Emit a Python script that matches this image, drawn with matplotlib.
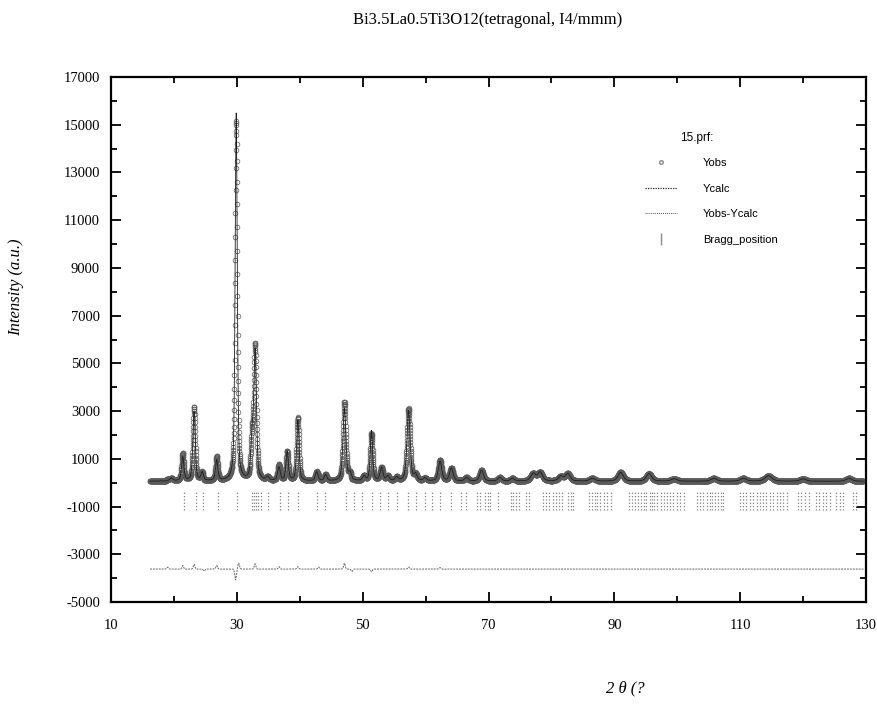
import numpy as np
import matplotlib.pyplot as plt
from matplotlib.lines import Line2D

plt.rcParams['axes.unicode_minus'] = False

# reflexiones observadas: posicion (2theta), altura sobre el fondo, anchura
peak_pos = [19.6, 21.4, 23.2, 24.5, 26.8, 29.9, 32.4, 32.9, 34.9, 36.7, 38.0, 39.7,
            42.7, 44.1, 47.1, 48.0, 50.2, 51.4, 53.0, 54.0, 55.4, 57.3, 58.4, 59.9,
            62.3, 64.1, 66.5, 68.9, 71.8, 73.8, 77.1, 78.2, 81.5, 82.6, 86.5, 91.0,
            95.5, 99.5, 105.8, 110.5, 114.5, 120.0, 127.3]
peak_height = [120, 1000, 2900, 350, 860, 15400, 1500, 5400, 150, 560, 1230, 2550,
               380, 260, 3050, 300, 200, 2100, 550, 200, 150, 2950, 250, 120,
               830, 540, 150, 460, 150, 120, 320, 370, 200, 310, 120, 370,
               320, 100, 120, 120, 230, 100, 120]
peak_fwhm = [0.6, 0.45, 0.45, 0.45, 0.45, 0.4, 0.45, 0.5, 0.5, 0.5, 0.45, 0.45,
             0.5, 0.5, 0.55, 0.5, 0.5, 0.45, 0.55, 0.55, 0.55, 0.6, 0.55, 0.6,
             0.65, 0.65, 0.65, 0.7, 0.7, 0.7, 0.9, 0.9, 0.9, 0.9, 1.0, 1.0,
             1.0, 1.1, 1.1, 1.1, 1.3, 1.1, 1.1]
background = 60

# residuos (Yobs - Ycalc) en los picos principales
diff_pos = [19.0, 21.4, 23.2, 24.8, 26.8, 29.8, 30.3, 32.9, 36.7, 39.7, 43.0, 47.1,
            48.3, 51.4, 57.3, 62.3]
diff_amp = [80, 150, 200, -80, 150, -450, 250, 220, 100, 100, 80, 250,
            -100, -120, 80, 60]
diff_offset = -3620

bragg_pos = [21.6, 23.5, 24.6, 27.0, 30.0, 32.4, 32.7, 33.0, 33.3, 33.9, 34.9, 36.9,
             38.2, 39.7, 42.8, 44.0, 47.3, 48.7, 49.9, 51.5, 52.8, 54.0, 55.4, 57.2,
             58.4, 59.9, 61.0, 62.3, 64.1, 65.7, 66.5, 68.2, 68.7, 69.4, 69.9, 70.2,
             71.5, 73.5, 73.9, 74.4, 74.9, 76.0, 76.5, 78.6, 79.1, 79.6, 80.2, 80.7,
             81.2, 81.7, 82.6, 83.1, 83.5, 86.0, 86.4, 86.9, 87.3, 87.8, 88.3, 88.9,
             89.4, 92.3, 92.8, 93.3, 93.7, 94.2, 94.7, 95.1, 95.6, 96.0, 96.3, 96.8,
             97.4, 97.9, 98.4, 98.9, 99.4, 100.0, 100.4, 101.0, 103.1, 103.6, 104.1,
             104.7, 105.2, 105.5, 106.0, 106.4, 106.9, 107.3, 110.0, 110.5, 111.0,
             111.6, 112.1, 112.6, 113.1, 113.6, 114.1, 114.7, 115.2, 115.8, 116.3,
             116.8, 117.4, 119.2, 119.7, 120.3, 121.0, 122.1, 122.6, 123.1, 123.7,
             124.2, 125.3, 125.8, 126.3, 127.9, 128.4]

x_ticks = [10, 30, 50, 70, 90, 110, 130]
y_ticks = [-5000, -3000, -1000, 1000, 3000, 5000, 7000, 9000, 11000, 13000, 15000, 17000]

two_theta = np.arange(16.2, 129.6, 0.02)


def pseudo_voigt(x, pos, height, fwhm, eta=0.5):
    g = np.exp(-4 * np.log(2) * ((x - pos) / fwhm) ** 2)
    l = 1 / (1 + 4 * ((x - pos) / fwhm) ** 2)
    return height * (eta * l + (1 - eta) * g)


ycalc = np.full_like(two_theta, background, dtype=float)
for p, h, w in zip(peak_pos, peak_height, peak_fwhm):
    ycalc += pseudo_voigt(two_theta, p, h, w)

resid = np.zeros_like(two_theta)
for p, a in zip(diff_pos, diff_amp):
    resid += a * np.exp(-4 * np.log(2) * ((two_theta - p) / 0.3) ** 2)
yobs = ycalc + resid

fig = plt.figure(figsize=(8.77, 7.04), dpi=100)
ax = fig.add_axes([111 / 877, 1 - 602 / 704, 755 / 877, 525 / 704])

ax.plot(two_theta, yobs, linestyle='none', marker='o', markersize=3.4,
        mfc='none', mec='#5a5a5a', mew=0.5)
ax.plot(two_theta, ycalc, color='#1e1e1e', lw=0.6)
ax.plot(two_theta, resid + diff_offset, color='#666666', lw=0.7, linestyle=(0, (2, 1)))
ax.vlines(bragg_pos, -1150, -400, colors='#808080', lw=0.9, linestyles=':')

ax.set_xlim(10, 130)
ax.set_ylim(-5000, 17000)
ax.set_xticks(x_ticks)
ax.set_xticks(np.arange(20, 130, 20), minor=True)
ax.set_yticks(y_ticks)
ax.set_yticks(np.arange(-4000, 17000, 2000), minor=True)

serif = 'Liberation Serif'
for lab in ax.get_xticklabels() + ax.get_yticklabels():
    lab.set_family(serif)
    lab.set_fontsize(10.5)
ax.tick_params(which='both', direction='in', top=True, right=True, width=1.3)
ax.tick_params(which='major', length=7)
ax.tick_params(which='minor', length=4)
ax.tick_params(axis='x', pad=12)
ax.tick_params(axis='y', pad=8)
for s in ax.spines.values():
    s.set_linewidth(1.6)

fig.text(488 / 877, 1 - 20 / 704, 'Bi3.5La0.5Ti3O12(tetragonal, I4/mmm)',
         family=serif, fontsize=12, ha='center', va='center')
fig.text(16 / 877, 1 - 287 / 704, 'Intensity (a.u.)', family=serif, style='italic',
         fontsize=12, rotation=90, ha='center', va='center')
fig.text(625 / 877, 1 - 688 / 704, '2 θ (?', family=serif, style='italic',
         fontsize=12, ha='center', va='center')

# leyenda
fig.text(697 / 877, 1 - 138 / 704, '15.prf:', family='Liberation Sans', fontsize=8.5,
         ha='center', va='center')
handles = [
    Line2D([], [], linestyle='none', marker='o', markersize=2.6, mfc='none', mec='#8a8a8a'),
    Line2D([], [], color='#222222', lw=0.9, linestyle=(0, (1, 1))),
    Line2D([], [], color='#555555', lw=0.7, linestyle=(0, (1, 1))),
    Line2D([], [], linestyle='none', marker='|', markersize=8, mec='#8a8a8a'),
]
labels = ['Yobs', 'Ycalc', 'Yobs-Ycalc', 'Bragg_position']
leg = ax.legend(handles, labels, loc='upper left', bbox_to_anchor=(645 / 877, 1 - 158 / 704),
                bbox_transform=fig.transFigure, frameon=False, borderpad=0, borderaxespad=0,
                handlelength=2.9, handletextpad=2.3, labelspacing=1.4,
                prop={'family': 'Liberation Sans', 'size': 8})

fig.savefig('out.png', dpi=100)
